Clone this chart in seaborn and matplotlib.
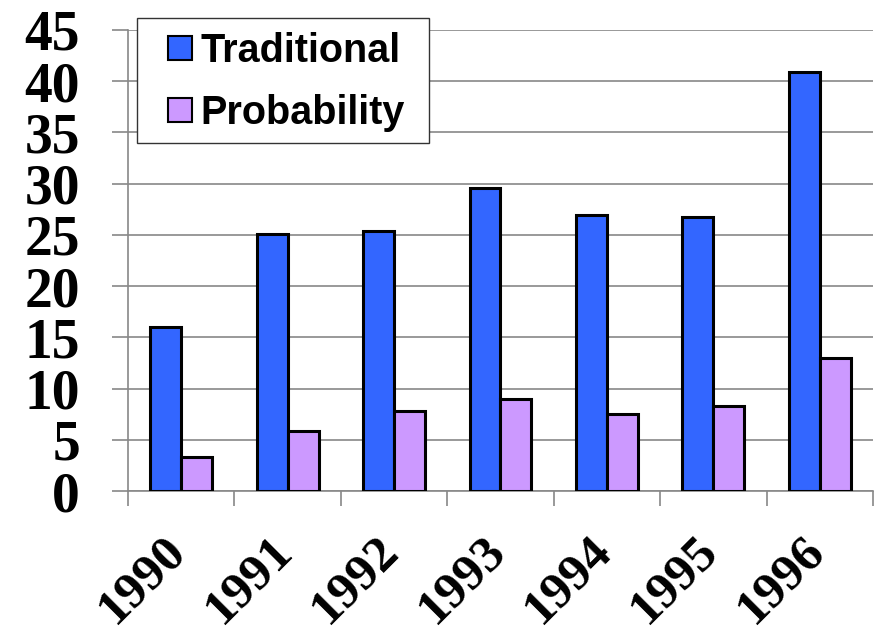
import numpy as np
import pandas as pd
import matplotlib
matplotlib.use("Agg")
import matplotlib.pyplot as plt
import matplotlib.transforms as mtransforms
from matplotlib.patches import Rectangle
from matplotlib.legend_handler import HandlerPatch
import seaborn as sns

years = ["1990", "1991", "1992", "1993", "1994", "1995", "1996"]
traditional = [16.0, 25.1, 25.4, 29.6, 26.9, 26.75, 40.9]
probability = [3.3, 5.9, 7.8, 8.95, 7.5, 8.3, 13.0]
series_names = ["Traditional", "Probability"]
colors = ["#3366FF", "#CC99FF"]
yticks = [0, 5, 10, 15, 20, 25, 30, 35, 40, 45]

df = pd.DataFrame({
    "year": years * 2,
    "value": traditional + probability,
    "series": [series_names[0]] * len(years) + [series_names[1]] * len(years),
})

sns.set_theme(style="white")
plt.rcParams["font.family"] = ["DejaVu Sans"]
plt.rcParams["text.color"] = "black"

fig = plt.figure(figsize=(8.8, 6.37), dpi=100)
ax = fig.add_axes([128 / 880, 1 - 491 / 637, (873 - 128) / 880, (491 - 30) / 637])

sns.barplot(data=df, x="year", y="value", hue="series", order=years,
            hue_order=series_names, palette=colors, saturation=1,
            width=0.58, gap=0, edgecolor="black", linewidth=2.2, ax=ax,
            zorder=3)

ax.set_ylim(0, 45)
ax.set_xlim(-0.5, len(years) - 0.5)
ax.set_yticks(yticks)
ax.yaxis.grid(True, color="#888888", linewidth=1.2, zorder=0)
ax.set_axisbelow(True)
ax.set_xlabel("")
ax.set_ylabel("")

for s in ["top", "right"]:
    ax.spines[s].set_visible(False)
for s in ["left", "bottom"]:
    ax.spines[s].set_color("#888888")
    ax.spines[s].set_linewidth(1.2)

ax.tick_params(axis="y", which="major", left=True, length=11.5, width=1.2,
               color="#888888", pad=23, labelcolor="black")
ax.set_yticklabels([str(v) for v in yticks],
                   fontdict={"family": "Liberation Serif", "weight": "bold", "size": 40})

ax.set_xticks(np.arange(-0.5, len(years), 1.0), minor=True)
ax.tick_params(axis="x", which="minor", bottom=True, length=11, width=1.2,
               color="#888888")
ax.tick_params(axis="x", which="major", bottom=True, length=0, pad=26,
               labelcolor="black")
ax.set_xticks(range(len(years)))
ax.set_xticklabels(years, rotation=45, ha="right",
                   fontdict={"family": "Liberation Serif", "weight": "bold", "size": 37})
offset = mtransforms.ScaledTranslation(14 / 100, 0, fig.dpi_scale_trans)
for lbl in ax.get_xticklabels():
    lbl.set_transform(lbl.get_transform() + offset)


def square_patch(legend, orig_handle, xdescent, ydescent, width, height, fontsize):
    return Rectangle((-xdescent, -ydescent), height, height)


# legend frame
fig.patches.append(Rectangle((137 / 880, 1 - 143 / 637), (429 - 137) / 880, (143 - 18) / 637,
                             transform=fig.transFigure, facecolor="white",
                             edgecolor="#333333", linewidth=1.0, zorder=5))

handles, labels = ax.get_legend_handles_labels()
leg = fig.legend(handles, labels, loc="upper left",
                 bbox_to_anchor=(168 / 880, 1 - 32 / 637),
                 bbox_transform=fig.transFigure, borderaxespad=0, borderpad=0,
                 prop={"family": "Liberation Sans", "weight": "bold", "size": 28.5},
                 handlelength=0.57, handleheight=0.57, handletextpad=0.25,
                 labelspacing=0.6, frameon=False,
                 handler_map={Rectangle: HandlerPatch(patch_func=square_patch)})
leg.set_zorder(6)
for t in leg.get_texts():
    t.set_color("black")
for h in leg.legend_handles:
    h.set_edgecolor("black")
    h.set_linewidth(1.5)
if ax.get_legend() is not None:
    ax.get_legend().remove()

fig.savefig("out.png", dpi=100)
